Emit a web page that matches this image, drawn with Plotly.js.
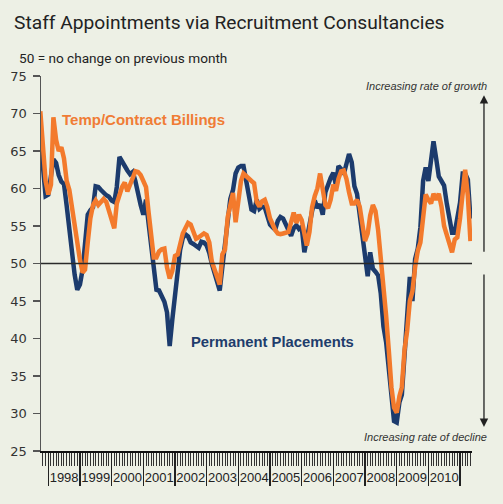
<!DOCTYPE html>
<html>
<head>
<meta charset="utf-8">
<script src="https://cdn.plot.ly/plotly-3.0.1.min.js"></script>
<style>
  html, body { margin: 0; padding: 0; background: #edf0e5; }
  #chart { width: 503px; height: 504px; }
</style>
</head>
<body>
<div id="chart"></div>
<script>
// First month of the series (Oct 1997), then one value per month
const startYear = 1997;
const startMonth = 10;

// Temp/Contract Billings index (orange)
const tempBillings = [
  70.3, 65.5, 61,                                                  // Oct-Dec 1997
  59.2, 60.5, 69.5, 66.5, 65, 65.5, 64, 61, 59.8, 57.5, 54.5, 52.5, // 1998
  50.5, 48.8, 49.2, 52.8, 56, 57.8, 58.4, 57.8, 58.2, 58.6, 58.2, 57, // 1999
  55.5, 54.7, 58, 59.2, 60.2, 60.8, 59.6, 60.5, 61.5, 62.3, 62.2, 61.8, // 2000
  61, 60.2, 57, 53.5, 50.8, 50.8, 51.6, 51.9, 52, 49.5, 48, 49,     // 2001
  51, 51.2, 52.5, 54, 54.7, 55.4, 55.2, 54, 53.3, 53.5, 53.8, 54,   // 2002
  53.8, 52.8, 50.3, 49.2, 48, 47.2, 51.2, 51.9, 56.2, 58.2, 59.4, 55.5, // 2003
  58, 61, 62, 61.6, 61.3, 61, 60.7, 58.2, 57.6, 58.3, 58.5, 57.5,   // 2004
  56, 55.1, 54.5, 54, 53.9, 54, 54.1, 54.2, 55.5, 56.8, 55.4, 56.5, // 2005
  55.8, 53.6, 52.4, 54.2, 57.5, 59, 60, 62, 59.3, 57.8, 57.4, 58.5, // 2006
  60.5, 59.7, 61.3, 62.3, 62.4, 61.3, 59.5, 58, 58, 58.5, 57.6, 55.5, // 2007
  53, 54, 56.4, 57.8, 57, 54.4, 50.8, 47.5, 43, 38.5, 33.5, 30.8,   // 2008
  30.1, 32.3, 33.5, 38.5, 41, 45, 46.3, 49.5, 51.7, 52.8, 55.8, 59.2, // 2009
  58.5, 58, 59.3, 58.5, 59.3, 57.6, 55, 53.8, 52.5, 51.5, 53.2, 53.5, // 2010
  56, 60, 62.5, 59, 53                                              // Jan-May 2011
];

// Permanent Placements index (navy)
const permPlacements = [
  66.8, 62.5, 59,
  59.2, 61.5, 63.9, 63.4, 61.8, 60.9, 60.6, 57.7, 54.5, 50.8, 48.5, 46.5,
  47.2, 49.2, 52.3, 56.5, 57.1, 57.5, 60.3, 60.2, 59.8, 59.4, 59.1, 58.9,
  58.4, 58.2, 60.2, 64.2, 63.5, 62.9, 62.4, 61.9, 62.2, 61, 59, 57.8,
  56.5, 58.5, 55.5, 52.5, 49.5, 46.5, 46.4, 45.6, 44.9, 43.5, 39, 42.5,
  46, 49.2, 51.8, 53.4, 53.9, 53.6, 52.8, 52.6, 52.4, 52.1, 52.9, 52.8,
  52.4, 51.4, 50, 48.6, 47.3, 46.4, 49.5, 52.4, 55.5, 58.6, 59.8, 62,
  62.8, 63, 63, 61, 59, 57.2, 57, 58.5, 57.3, 57.6, 57.5, 56.4,
  55.2, 54.8, 54.5, 55.7, 56.2, 56, 55.2, 54.5, 53.7, 54.7, 55.1, 54.6,
  54.9, 51.5, 53.5, 55.5, 57, 58.4, 57.4, 57.9, 56.5, 59.5, 60.7, 61.4,
  62.1, 60.4, 63, 62.6, 61.9, 63.4, 64.6, 63.5, 60.3, 59.3, 56.5, 52.8,
  50.7, 48.3, 51.5, 49.3, 48.9, 48.4, 46, 41.6, 39.5, 35.5, 31.7, 29,
  28.8, 31.5, 32.5, 37.7, 41, 48.2, 45, 50.6, 52, 54.8, 61, 62.8,
  61, 63.8, 66.3, 64, 61.6, 61, 60.4, 58, 55.5, 54.1, 54.1, 55.9,
  58.1, 62, 62, 61.2, 56
];

const seriesNames = ["Permanent Placements", "Temp/Contract Billings"];
const titleText = "Staff Appointments via Recruitment Consultancies";
const subtitleText = "50 = no change on previous month";
const growthText = "Increasing rate of growth";
const declineText = "Increasing rate of decline";
const noChangeLevel = 50;

function monthDates(n) {
  const out = [];
  let y = startYear, m = startMonth;
  for (let i = 0; i < n; i++) {
    out.push(y + "-" + String(m).padStart(2, "0") + "-01");
    m++; if (m > 12) { m = 1; y++; }
  }
  return out;
}
const dates = monthDates(tempBillings.length);

const navy = "#1c3b6d";
const orange = "#f37a2c";
const bg = "#edf0e5";

const traces = [
  { x: dates, y: permPlacements, type: "scatter", mode: "lines", name: seriesNames[0],
    line: { color: navy, width: 4.5 }, hoverinfo: "skip" },
  { x: dates, y: tempBillings, type: "scatter", mode: "lines", name: seriesNames[1],
    line: { color: orange, width: 4.5 }, hoverinfo: "skip" }
];

const layout = {
  width: 503, height: 504,
  margin: { l: 41, r: 31, t: 76, b: 53 },
  paper_bgcolor: bg, plot_bgcolor: bg,
  showlegend: false,
  title: {
    text: titleText,
    font: { family: "Roboto, Liberation Sans, sans-serif", size: 19.2, color: "#222" },
    xref: "container", x: 0.028, xanchor: "left",
    yref: "container", y: 0.956, yanchor: "middle"
  },
  xaxis: {
    type: "date",
    range: ["1997-10-09", "2011-05-19"],
    tick0: "1998-01-01", dtick: "M12", tickformat: "%Y",
    ticklabelmode: "period",
    tickangle: 0,
    ticks: "outside", ticklen: 33, tickwidth: 1.5, tickcolor: "#222",
    ticklabelstandoff: -20,
    showline: true, linecolor: "#111", linewidth: 2,
    showgrid: false, zeroline: false,
    tickfont: { family: "Liberation Sans, Arial, sans-serif", size: 13, color: "#222" },
    minor: { dtick: "M1", ticks: "outside", ticklen: 13, tickwidth: 1, tickcolor: "#333", showgrid: false }
  },
  yaxis: {
    range: [25, 75], tick0: 25, dtick: 5,
    ticks: "outside", ticklen: 7, tickwidth: 1.2, tickcolor: "#555",
    showline: true, linecolor: "#555", linewidth: 1.5,
    showgrid: false, zeroline: false,
    ticklabelstandoff: 3,
    tickfont: { family: "DejaVu Sans, sans-serif", size: 13, color: "#333" }
  },
  shapes: [
    { type: "line", xref: "paper", x0: 0, x1: 1, yref: "y", y0: noChangeLevel, y1: noChangeLevel,
      line: { color: "#2a2a2a", width: 1.5 }, layer: "above" }
  ],
  annotations: [
    { text: subtitleText, xref: "paper", yref: "paper", x: -0.0557, y: 1.048,
      xanchor: "left", yanchor: "middle", showarrow: false,
      font: { family: "Roboto, Liberation Sans, sans-serif", size: 13.6, color: "#222" } },
    { text: "<b>" + seriesNames[1] + "</b>", xref: "paper", yref: "paper", x: 0.0447, y: 0.883,
      xanchor: "left", yanchor: "middle", showarrow: false,
      font: { family: "Liberation Sans, Arial, sans-serif", size: 15, color: "#f07c35" } },
    { text: "<b>" + seriesNames[0] + "</b>", xref: "paper", yref: "paper", x: 0.344, y: 0.291,
      xanchor: "left", yanchor: "middle", showarrow: false,
      font: { family: "Liberation Sans, Arial, sans-serif", size: 14.8, color: "#1f3d6c" } },
    { text: "<i>" + growthText + "</i>", xref: "paper", yref: "paper", x: 1.039, y: 0.973,
      xanchor: "right", yanchor: "middle", showarrow: false,
      font: { family: "Liberation Sans, Arial, sans-serif", size: 11, color: "#333" } },
    { text: "<i>" + declineText + "</i>", xref: "paper", yref: "paper", x: 1.039, y: 0.0373,
      xanchor: "right", yanchor: "middle", showarrow: false,
      font: { family: "Liberation Sans, Arial, sans-serif", size: 11, color: "#333" } },
    { text: "", xref: "paper", yref: "paper", x: 1.0278, y: 0.949,
      showarrow: true, axref: "pixel", ayref: "pixel", ax: 0, ay: 158,
      arrowhead: 2, arrowsize: 1.3, arrowwidth: 1.3, arrowcolor: "#222" },
    { text: "", xref: "paper", yref: "paper", x: 1.0278, y: 0.064,
      showarrow: true, axref: "pixel", ayref: "pixel", ax: 0, ay: -154,
      arrowhead: 2, arrowsize: 1.3, arrowwidth: 1.3, arrowcolor: "#222" }
  ]
};

Plotly.newPlot("chart", traces, layout, { staticPlot: true, displayModeBar: false });
</script>
</body>
</html>
